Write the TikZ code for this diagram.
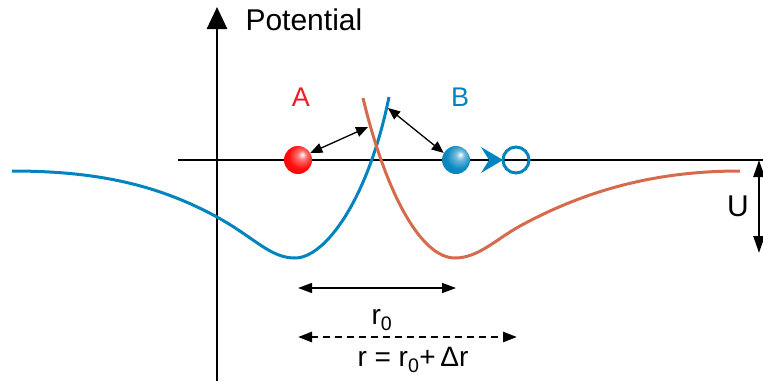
\documentclass[tikz,border=0pt]{standalone}
\usepackage{fontspec}
\setmainfont{Liberation Sans}
\usetikzlibrary{arrows.meta, positioning}
\definecolor{pblue}{RGB}{0,132,192}
\definecolor{porange}{RGB}{214,106,76}
\definecolor{pred}{RGB}{237,28,36}
\pgfdeclareradialshading{redsphere}{\pgfqpoint{8bp}{10bp}}{color(0bp)=(white);
  color(8bp)=(red!55!white); color(22bp)=(red!95!white); color(45bp)=(red!92!black);
  color(62bp)=(red!70!black)}
\pgfdeclareradialshading{bluesphere}{\pgfqpoint{8bp}{10bp}}{color(0bp)=(white);
  color(8bp)=(pblue!55!white); color(22bp)=(pblue!95!white); color(45bp)=(pblue!90!black);
  color(62bp)=(pblue!70!black)}

\begin{document}
\begin{tikzpicture}[x=1pt, y=-1pt,
          axis/.style={line width=2.6pt},
          curve/.style={line width=3pt},
          dist/.style={line width=1.5pt,
            {Triangle[length=14pt,width=10pt]}-{Triangle[length=14pt,width=10pt]}},
          push/.style={line width=1.3pt,
            {Triangle[length=12pt,width=10pt]}-{Triangle[length=12pt,width=10pt]}},
          atom/.style={circle, minimum size=28pt, inner sep=0pt},
          lbl/.style={font=\fontsize{27}{31}\selectfont},
        ]
          \useasboundingbox (0,0) rectangle (763,383);
          % axes
          \coordinate (o)  at (217,160);
          \coordinate (yb) at (217,381);
          \coordinate (yt) at (217,7);
          \coordinate (xl) at (178,160);
          \coordinate (xr) at (763,160);
          \draw[axis] (xl) -- (xr);
          \draw[axis, -{Triangle[length=22pt,width=20pt]}] (yb) -- (yt);
          \node[font=\fontsize{30}{34}\selectfont, anchor=west] (pot) at (242,20) {Potential};
          % potential curves
          \draw[pblue, curve] (12,171) .. controls (100,171) and (160,186) .. (217,217)
            .. controls (255,238) and (270,258) .. (295,258)
            .. controls (325,258) and (368,200) .. (389,97);
          \draw[porange, curve] (363,98) .. controls (385,190) and (420,258) .. (455,258)
            .. controls (478,258) and (495,240) .. (520,226)
            .. controls (590,188) and (660,171) .. (740,171);
          % atoms
          \node[atom, shading=redsphere] (a) at (298,160) {};
          \node[atom, shading=bluesphere] (b) at (456,160) {};
          \node[circle, draw=pblue, line width=3pt, minimum size=26pt, inner sep=0pt] (bn) at (516,160) {};
          \fill[pblue] (481,147) -- (503,160) -- (481,173) -- (489,160) -- cycle;
          \node[lbl, text=pred] (la) at (301,97) {A};
          \node[lbl, text=pblue] (lb) at (460,97) {B};
          \coordinate (ca) at (368,127);
          \coordinate (cb) at (388,108);
          \draw[push] (a.30) -- (ca);
          \draw[push] (cb) -- (b.150);
          % well depth
          \coordinate (ut) at (759,160);
          \coordinate (ub) at (759,253);
          \draw[line width=2.4pt, {Triangle[length=17pt,width=11pt]}-{Triangle[length=17pt,width=11pt]}] (ut) -- (ub);
          \node[font=\fontsize{30}{34}\selectfont] (u) at (738,206) {U};
          % distances
          \coordinate (r1) at (298,288);
          \coordinate (r2) at (456,288);
          \coordinate (d1) at (298,337);
          \coordinate (d2) at (517,337);
          \draw[dist] (r1) -- (r2);
          \draw[dist, line width=2.6pt, dash pattern=on 7pt off 5pt] (d1) -- (d2);
          \node[font=\fontsize{28}{32}\selectfont] (rz) at (382,320) {r\textsubscript{0}};
          \node[font=\fontsize{28}{32}\selectfont] (rr) at (413,360) {r = r\textsubscript{0}+\,Δr};
        \end{tikzpicture}
\end{document}
